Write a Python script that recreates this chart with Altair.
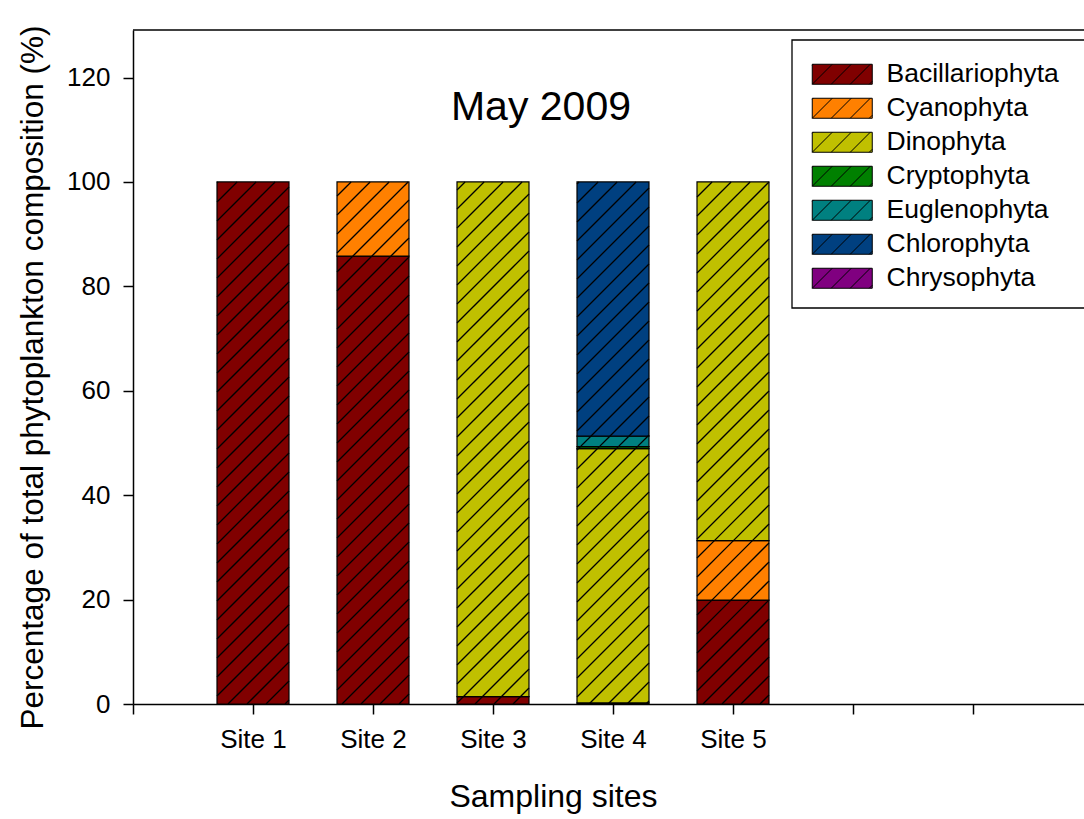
import json
import math

import altair as alt
import pandas as pd

# ---- data -------------------------------------------------------------
sites = ["Site 1", "Site 2", "Site 3", "Site 4", "Site 5"]
taxa = ["Bacillariophyta", "Cyanophyta", "Dinophyta", "Cryptophyta",
        "Euglenophyta", "Chlorophyta", "Chrysophyta"]
colors = ["#800000", "#FF8000", "#C0C000", "#008000",
          "#008080", "#004080", "#800080"]

bacillariophyta = [100.0, 85.8, 1.4, 0.2, 19.9]
cyanophyta = [0.0, 14.2, 0.0, 0.0, 11.4]
dinophyta = [0.0, 0.0, 98.6, 48.7, 68.7]
cryptophyta = [0.0, 0.0, 0.0, 0.4, 0.0]
euglenophyta = [0.0, 0.0, 0.0, 2.0, 0.0]
chlorophyta = [0.0, 0.0, 0.0, 48.7, 0.0]
chrysophyta = [0.0, 0.0, 0.0, 0.0, 0.0]

y_ticks = [0, 20, 40, 60, 80, 100, 120]
x_tick_labels = [""] + sites + ["", ""]

title_text = "May 2009"
x_title = "Sampling sites"
y_title = "Percentage of total phytoplankton composition (%)"

series = [bacillariophyta, cyanophyta, dinophyta, cryptophyta,
          euglenophyta, chlorophyta, chrysophyta]

# ---- layout -----------------------------------------------------------
FONT = "Liberation Sans"
PLOT_W, PLOT_H = 951, 674
SLOT_PX = 120                 # pixels per site slot on the x axis
X_MAX = PLOT_W / SLOT_PX
Y_MAX = 129.1
BAR_PX = 72
HATCH_PX = 19                 # spacing of the diagonal hatching

# stacked segments, bottom to top in taxon order
rows = []
for i, site in enumerate(sites):
    base = 0.0
    for t, (taxon, vals) in enumerate(zip(taxa, series)):
        v = vals[i]
        if v > 0:
            rows.append(dict(site=site, pos=i + 1, taxon=taxon, order=t,
                             value=v, y0=base, y1=base + v))
            base += v
seg = pd.DataFrame(rows)

# 45-degree hatch lines clipped to each segment (pixel space -> data units)
kx = PLOT_W / X_MAX
ky = PLOT_H / Y_MAX
half = BAR_PX / 2
hatch = []
for r in rows:
    X0, X1 = r["pos"] * kx - half, r["pos"] * kx + half
    Y0, Y1 = r["y0"] * ky, r["y1"] * ky
    k0 = math.floor((X0 - Y1) / HATCH_PX)
    k1 = math.ceil((X1 - Y0) / HATCH_PX)
    for k in range(k0, k1 + 1):
        d = k * HATCH_PX
        xa = max(X0, Y0 + d)
        xb = min(X1, Y1 + d)
        if xb - xa > 0.3:
            hatch.append(dict(hx=xa / kx, hy=(xa - d) / ky,
                              hx2=xb / kx, hy2=(xb - d) / ky))
hatch_df = pd.DataFrame(hatch)

# hatched legend swatch: 60x20 px box (units of 10 px) with diagonal lines
parts = ["M-3,-1H3V1H-3Z"]
u = -4.9
while u < 3:
    t0 = max(0.0, -3 - u)
    t1 = min(2.0, 3 - u)
    if t1 - t0 > 0.05:
        parts.append(f"M{u + t0:.3f},{1 - t0:.3f}L{u + t1:.3f},{1 - t1:.3f}")
    u += 1.9
swatch_path = "".join(parts)

x_scale = alt.Scale(domain=[0, X_MAX], nice=False, zero=False, padding=0)
y_scale = alt.Scale(domain=[0, Y_MAX], nice=False, padding=0)

label_expr = f"{json.dumps(x_tick_labels)}[datum.value] || ''"

x_axis = alt.Axis(
    values=list(range(len(x_tick_labels))), labelExpr=label_expr,
    title=x_title, titleFont=FONT, titleFontSize=32, titleFontWeight="normal",
    titleColor="black", titleX=420, titleY=102.7, titleBaseline="alphabetic",
    titleAlign="center",
    labelFont=FONT, labelFontSize=26, labelColor="black", labelPadding=12,
    labelFlush=False, labelOverlap=False,
    tickSize=10, tickWidth=1.5, tickColor="black",
    domainColor="black", domainWidth=1.5, grid=False)

y_axis = alt.Axis(
    values=y_ticks, title=y_title, titleFont=FONT, titleFontSize=31.5,
    titleFontWeight="normal", titleColor="black", titleAngle=270,
    titleX=-91, titleY=347, titleBaseline="alphabetic", titleAlign="center",
    labelFont=FONT, labelFontSize=26, labelColor="black", labelPadding=13,
    labelFlush=False,
    tickSize=10, tickWidth=1.5, tickColor="black",
    domainColor="black", domainWidth=1.5, grid=False)

bars = alt.Chart(seg).mark_bar(stroke="black", strokeWidth=1.2, size=BAR_PX).encode(
    x=alt.X("pos:Q", scale=x_scale, axis=x_axis),
    y=alt.Y("y0:Q", scale=y_scale, axis=y_axis),
    y2="y1:Q",
    color=alt.Color("taxon:N", scale=alt.Scale(domain=taxa, range=colors),
                    legend=alt.Legend(
                        title=None, orient="none", legendX=696, legendY=31,
                        symbolType=swatch_path, symbolSize=400,
                        symbolStrokeColor="black", symbolStrokeWidth=1,
                        symbolOpacity=1,
                        labelFont=FONT, labelFontSize=26.5, labelColor="black",
                        labelOffset=31, rowPadding=7, padding=0,
                        labelLimit=400)),
    order=alt.Order("order:Q"),
)

lines = alt.Chart(hatch_df).mark_rule(color="black", strokeWidth=1.3).encode(
    x=alt.X("hx:Q", scale=x_scale, axis=x_axis),
    y=alt.Y("hy:Q", scale=y_scale, axis=y_axis),
    x2="hx2:Q",
    y2="hy2:Q",
)

label_df = pd.DataFrame({"t": [title_text]})

top_border = alt.Chart(label_df).mark_rule(color="black", strokeWidth=1.5).encode(
    x=alt.value(0), x2=alt.value(PLOT_W), y=alt.value(0))

legend_box = alt.Chart(label_df).mark_rect(
    fill="white", stroke="black", strokeWidth=1.3).encode(
    x=alt.value(659), x2=alt.value(975), y=alt.value(10), y2=alt.value(278))

title = alt.Chart(label_df).mark_text(
    font=FONT, fontSize=41, color="black", align="center",
    baseline="alphabetic").encode(
    x=alt.value(408), y=alt.value(89.5), text="t:N")

chart = alt.layer(bars, lines, legend_box, top_border, title).properties(
    width=PLOT_W, height=PLOT_H,
    padding={"left": 133, "top": 30, "right": 0, "bottom": 115},
    autosize=alt.AutoSizeParams(type="none"),
    background="white",
).configure_view(stroke=None)

chart.save("out.html", embed_options={"renderer": "svg", "actions": False})
